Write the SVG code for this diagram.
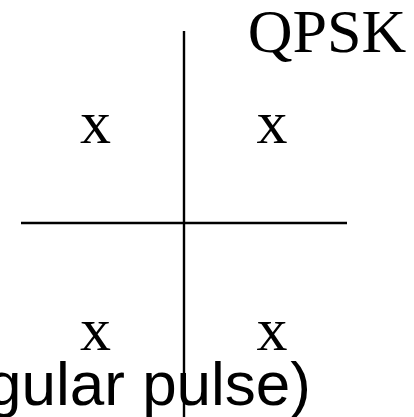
<svg xmlns="http://www.w3.org/2000/svg" width="414" height="417" viewBox="0 0 414 417">
<style>
.ser{font-family:"Liberation Serif","Times New Roman",serif;font-size:62px;fill:#000}
.sans{font-family:"Liberation Sans",Arial,sans-serif;font-size:62px;fill:#000}
.ax{stroke:#000;stroke-width:2.4;fill:none}
</style>
<rect width="414" height="417" fill="#fff"/>
<g id="axes">
<line class="ax" x1="184" y1="31" x2="184" y2="417"/>
<line class="ax" x1="21" y1="223" x2="347" y2="223"/>
</g>
<g id="title"><text class="ser" x="327" y="52" text-anchor="middle">QPSK</text></g>
<g id="p1"><text class="ser" x="95.5" y="143" text-anchor="middle">x</text></g>
<g id="p2"><text class="ser" x="272" y="143" text-anchor="middle">x</text></g>
<g id="p3"><text class="ser" x="95.5" y="350" text-anchor="middle">x</text></g>
<g id="p4"><text class="ser" x="272" y="350" text-anchor="middle">x</text></g>
<g id="caption"><text class="sans" x="311" y="405" text-anchor="end">(rectangular pulse)</text></g>
</svg>
